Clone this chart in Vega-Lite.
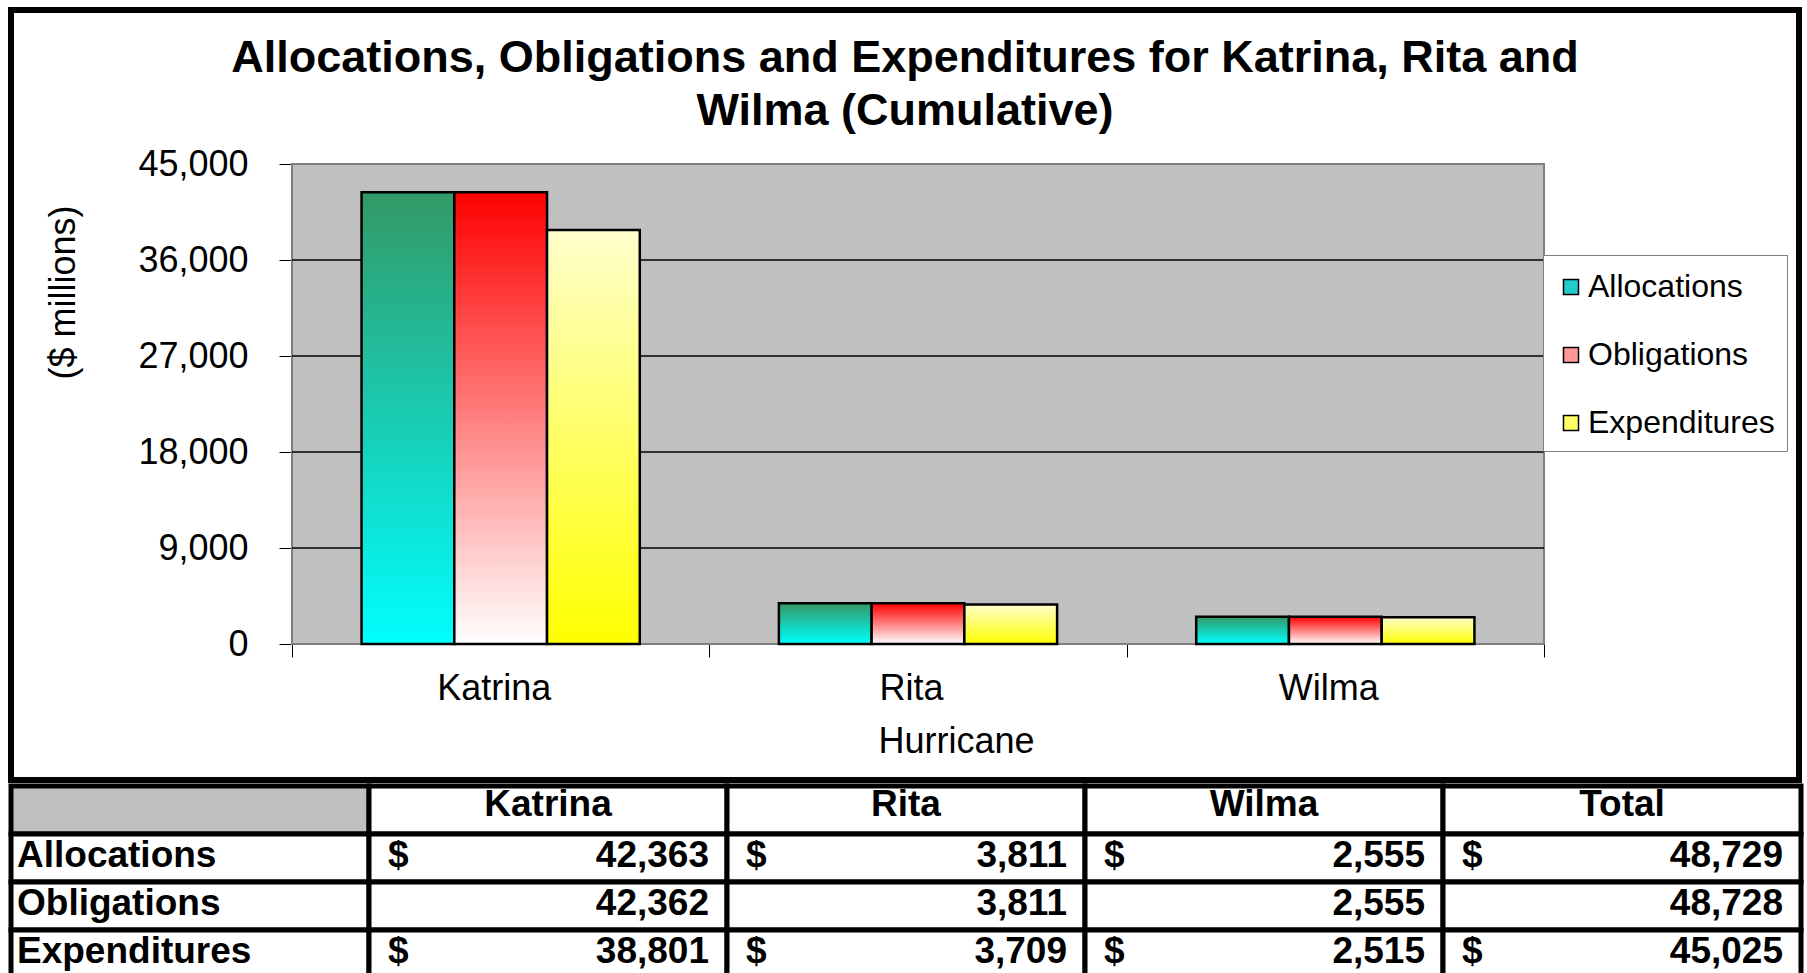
{
  "$schema": "https://vega.github.io/schema/vega-lite/v6.json",
  "padding": {"left": 8, "top": 7, "right": 0, "bottom": 0},
  "background": "white",
  "spacing": 0,
  "config": {"font": "Liberation Sans", "view": {"stroke": null}},
  "datasets": {
    "bars": [
      {"hurricane": "Katrina", "series": "Allocations", "amount": 42363},
      {"hurricane": "Katrina", "series": "Obligations", "amount": 42362},
      {"hurricane": "Katrina", "series": "Expenditures", "amount": 38801},
      {"hurricane": "Rita", "series": "Allocations", "amount": 3811},
      {"hurricane": "Rita", "series": "Obligations", "amount": 3811},
      {"hurricane": "Rita", "series": "Expenditures", "amount": 3709},
      {"hurricane": "Wilma", "series": "Allocations", "amount": 2555},
      {"hurricane": "Wilma", "series": "Obligations", "amount": 2555},
      {"hurricane": "Wilma", "series": "Expenditures", "amount": 2515}
    ],
    "gridlines": [{"v": 9000}, {"v": 18000}, {"v": 27000}, {"v": 36000}],
    "table": [
      {"row": "header", "col": "label", "kind": "corner"},
      {"row": "header", "col": "Katrina", "kind": "header", "label": "Katrina"},
      {"row": "header", "col": "Rita", "kind": "header", "label": "Rita"},
      {"row": "header", "col": "Wilma", "kind": "header", "label": "Wilma"},
      {"row": "header", "col": "Total", "kind": "header", "label": "Total"},
      {"row": "Allocations", "col": "label", "kind": "label", "label": "Allocations"},
      {"row": "Allocations", "col": "Katrina", "kind": "value", "amount": 42363, "cur": "$"},
      {"row": "Allocations", "col": "Rita", "kind": "value", "amount": 3811, "cur": "$"},
      {"row": "Allocations", "col": "Wilma", "kind": "value", "amount": 2555, "cur": "$"},
      {"row": "Allocations", "col": "Total", "kind": "value", "amount": 48729, "cur": "$"},
      {"row": "Obligations", "col": "label", "kind": "label", "label": "Obligations"},
      {"row": "Obligations", "col": "Katrina", "kind": "value", "amount": 42362},
      {"row": "Obligations", "col": "Rita", "kind": "value", "amount": 3811},
      {"row": "Obligations", "col": "Wilma", "kind": "value", "amount": 2555},
      {"row": "Obligations", "col": "Total", "kind": "value", "amount": 48728},
      {"row": "Expenditures", "col": "label", "kind": "label", "label": "Expenditures"},
      {"row": "Expenditures", "col": "Katrina", "kind": "value", "amount": 38801, "cur": "$"},
      {"row": "Expenditures", "col": "Rita", "kind": "value", "amount": 3709, "cur": "$"},
      {"row": "Expenditures", "col": "Wilma", "kind": "value", "amount": 2515, "cur": "$"},
      {"row": "Expenditures", "col": "Total", "kind": "value", "amount": 45025, "cur": "$"}
    ]
  },
  "vconcat": [
    {
      "width": 1788,
      "height": 770,
      "view": {"stroke": "black", "strokeWidth": 6, "fill": "white"},
      "title": {
        "text": ["Allocations, Obligations and Expenditures for Katrina, Rita and", "Wilma (Cumulative)"],
        "font": "Liberation Sans",
        "fontSize": 45,
        "fontWeight": "bold",
        "color": "black",
        "lineHeight": 53,
        "anchor": "middle",
        "frame": "group",
        "offset": -124
      },
      "layer": [
        {
          "data": {"values": [{}]},
          "mark": {"type": "bar", "fill": "#C0C0C0", "stroke": "#808080", "strokeWidth": 2, "width": {"band": 3}},
          "encoding": {
            "x": {"datum": "Rita", "type": "nominal",
              "scale": {"domain": ["Katrina", "Rita", "Wilma"], "range": [281, 1533], "paddingInner": 0, "paddingOuter": 0},
              "axis": {
                "orient": "bottom", "offset": -136, "domain": false, "ticks": true, "tickBand": "extent",
                "tickColor": "black", "tickSize": 13, "tickWidth": 1,
                "labelFontSize": 36, "labelColor": "black", "labelPadding": 31, "labelBaseline": "middle", "labelAlign": "center", "labelAngle": 0, "labelOffset": -7,
                "title": "Hurricane", "titleFontSize": 36, "titleFontWeight": "normal", "titleColor": "black",
                "titleX": 945, "titleY": 97, "titleBaseline": "middle", "titleAlign": "center"
              }
            },
            "y": {"datum": 45000, "type": "quantitative",
              "scale": {"domain": [0, 45000], "range": [634, 154], "nice": false, "zero": true},
              "axis": {
                "values": [0, 9000, 18000, 27000, 36000, 45000], "format": ",", "labelExpr": "format(datum.value, ',')",
                "grid": false, "domain": false,
                "ticks": true, "tickColor": "black", "tickSize": 13, "tickWidth": 1,
                "labelFontSize": 36, "labelColor": "black", "labelPadding": 31,
                "offset": -281,
                "title": "($ millions)", "titleFontSize": 36, "titleFontWeight": "normal", "titleColor": "black",
                "titleX": -229, "titleY": 282, "titleAngle": -90, "titleAlign": "center", "titleBaseline": "middle"
              }
            },
            "y2": {"datum": 0}
          }
        },
        {
          "data": {"name": "gridlines"},
          "mark": {"type": "bar", "fill": null, "stroke": "black", "strokeWidth": 1, "width": {"band": 3}},
          "encoding": {
            "x": {"datum": "Rita", "type": "nominal"},
            "y": {"field": "v", "type": "quantitative"},
            "y2": {"field": "v"}
          }
        },
        {
          "data": {"name": "bars"},
          "transform": [{"filter": "datum.series === 'Allocations'"}],
          "mark": {"type": "bar", "stroke": "black", "strokeWidth": 2.5,
            "fill": {"gradient": "linear", "x1": 0, "y1": 0, "x2": 0, "y2": 1, "stops": [{"offset": 0, "color": "#339966"}, {"offset": 1, "color": "#00FFFF"}]}},
          "encoding": {
            "x": {"field": "hurricane", "type": "nominal"},
            "xOffset": {"field": "series", "type": "nominal",
              "scale": {"domain": ["Allocations", "Obligations", "Expenditures"], "paddingInner": 0, "paddingOuter": 0.75}},
            "y": {"field": "amount", "type": "quantitative"}
          }
        },
        {
          "data": {"name": "bars"},
          "transform": [{"filter": "datum.series === 'Obligations'"}],
          "mark": {"type": "bar", "stroke": "black", "strokeWidth": 2.5,
            "fill": {"gradient": "linear", "x1": 0, "y1": 0, "x2": 0, "y2": 1, "stops": [{"offset": 0, "color": "#FF0000"}, {"offset": 1, "color": "#FFFFFF"}]}},
          "encoding": {
            "x": {"field": "hurricane", "type": "nominal"},
            "xOffset": {"field": "series", "type": "nominal",
              "scale": {"domain": ["Allocations", "Obligations", "Expenditures"], "paddingInner": 0, "paddingOuter": 0.75}},
            "y": {"field": "amount", "type": "quantitative"}
          }
        },
        {
          "data": {"name": "bars"},
          "transform": [{"filter": "datum.series === 'Expenditures'"}],
          "mark": {"type": "bar", "stroke": "black", "strokeWidth": 2.5,
            "fill": {"gradient": "linear", "x1": 0, "y1": 0, "x2": 0, "y2": 1, "stops": [{"offset": 0, "color": "#FFFFCC"}, {"offset": 1, "color": "#FFFF00"}]}},
          "encoding": {
            "x": {"field": "hurricane", "type": "nominal"},
            "xOffset": {"field": "series", "type": "nominal",
              "scale": {"domain": ["Allocations", "Obligations", "Expenditures"], "paddingInner": 0, "paddingOuter": 0.75}},
            "y": {"field": "amount", "type": "quantitative"}
          }
        },
        {
          "data": {"name": "bars"},
          "mark": {"type": "bar", "fillOpacity": 0, "strokeOpacity": 0},
          "encoding": {
            "x": {"field": "hurricane", "type": "nominal"},
            "xOffset": {"field": "series", "type": "nominal",
              "scale": {"domain": ["Allocations", "Obligations", "Expenditures"], "paddingInner": 0, "paddingOuter": 0.75}},
            "y": {"field": "amount", "type": "quantitative"},
            "color": {"field": "series", "type": "nominal",
              "scale": {"domain": ["Allocations", "Obligations", "Expenditures"], "range": ["#22CCCC", "#FF9999", "#FFFF66"]},
              "legend": {
                "orient": "none", "legendX": 1532, "legendY": 245, "title": " ", "titleFontSize": 1, "titlePadding": 3,
                "symbolType": "square", "symbolSize": 225, "symbolStrokeColor": "black", "symbolStrokeWidth": 1.5,
                "symbolOpacity": 1,
                "labelFontSize": 32, "labelColor": "black", "labelOffset": 1, "labelLimit": 0,
                "padding": 12, "rowPadding": 36, "strokeColor": "#808080", "fillColor": "white",
                "encode": {
                  "symbols": {
                    "update": {
                      "fill": [
                        {"test": "datum.value === 'Allocations'", "value": {"gradient": "linear", "x1": 0, "y1": 0, "x2": 0, "y2": 1, "stops": [{"offset": 0, "color": "#339966"}, {"offset": 1, "color": "#00FFFF"}]}},
                        {"test": "datum.value === 'Obligations'", "value": {"gradient": "linear", "x1": 0, "y1": 0, "x2": 0, "y2": 1, "stops": [{"offset": 0, "color": "#FF0000"}, {"offset": 1, "color": "#FFFFFF"}]}},
                        {"value": {"gradient": "linear", "x1": 0, "y1": 0, "x2": 0, "y2": 1, "stops": [{"offset": 0, "color": "#FFFFCC"}, {"offset": 1, "color": "#FFFF00"}]}}
                      ],
                      "fillOpacity": {"value": 1},
                      "opacity": {"value": 1},
                      "stroke": {"value": "black"},
                      "strokeOpacity": {"value": 1},
                      "strokeWidth": {"value": 1.5}
                    }
                  }
                }
              }
            }
          }
        }
      ]
    },
    {
      "width": 1790,
      "height": 192,
      "data": {"name": "table"},
      "encoding": {
        "x": {"field": "col", "type": "nominal",
          "scale": {"domain": ["label", "Katrina", "Rita", "Wilma", "Total"], "paddingInner": 0, "paddingOuter": 0}, "axis": null},
        "y": {"field": "row", "type": "nominal",
          "scale": {"domain": ["header", "Allocations", "Obligations", "Expenditures"], "paddingInner": 0, "paddingOuter": 0}, "axis": null}
      },
      "layer": [
        {
          "mark": {"type": "rect", "stroke": "black", "strokeWidth": 5},
          "encoding": {
            "fill": {"condition": {"test": "datum.kind === 'corner'", "value": "#C0C0C0"}, "value": "white"}
          }
        },
        {
          "transform": [{"filter": "datum.kind === 'header'"}],
          "mark": {"type": "text", "font": "Liberation Sans", "fontSize": 37, "fontWeight": "bold", "baseline": "middle", "align": "center", "dy": -5, "color": "black"},
          "encoding": {"text": {"field": "label"}}
        },
        {
          "transform": [{"filter": "datum.kind === 'label'"}],
          "mark": {"type": "text", "font": "Liberation Sans", "fontSize": 37, "fontWeight": "bold", "baseline": "middle", "align": "left", "dx": 6, "dy": -2, "color": "black"},
          "encoding": {
            "x": {"field": "col", "type": "nominal", "bandPosition": 0},
            "text": {"field": "label"}
          }
        },
        {
          "transform": [{"filter": "datum.kind === 'value' && datum.cur"}],
          "mark": {"type": "text", "font": "Liberation Sans", "fontSize": 37, "fontWeight": "bold", "baseline": "middle", "align": "left", "dx": 19, "dy": -2, "color": "black"},
          "encoding": {
            "x": {"field": "col", "type": "nominal", "bandPosition": 0},
            "text": {"field": "cur"}
          }
        },
        {
          "transform": [{"filter": "datum.kind === 'value'"}],
          "mark": {"type": "text", "font": "Liberation Sans", "fontSize": 37, "fontWeight": "bold", "baseline": "middle", "align": "right", "dx": -18, "dy": -2, "color": "black"},
          "encoding": {
            "x": {"field": "col", "type": "nominal", "bandPosition": 1},
            "text": {"field": "amount", "format": ","}
          }
        }
      ]
    }
  ]
}
